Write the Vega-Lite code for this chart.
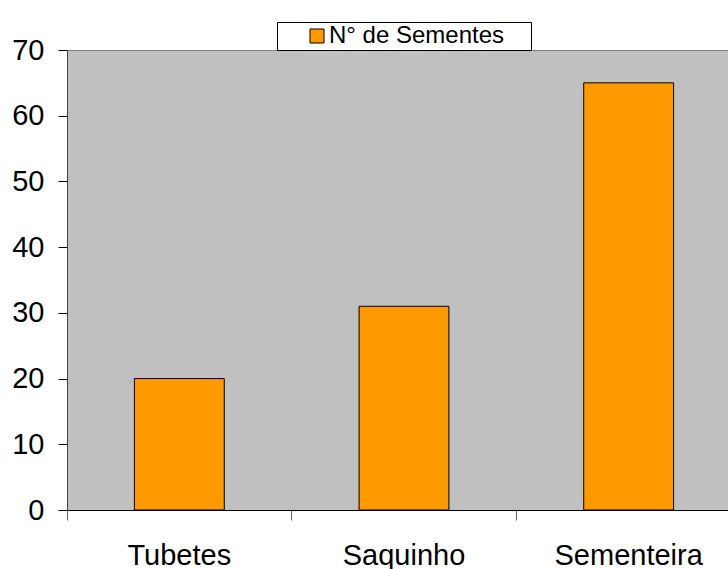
{
  "$schema": "https://vega.github.io/schema/vega-lite/v6.json",
  "autosize": {"type": "none"},
  "padding": {"left": 67, "top": 50, "right": 0, "bottom": 59},
  "width": 661,
  "height": 460,
  "background": "white",
  "config": {
    "font": "Liberation Sans",
    "view": {"fill": "#C0C0C0", "stroke": null}
  },
  "data": {
    "values": [
      {"categoria": "Tubetes", "serie": "N° de Sementes", "valor": 20},
      {"categoria": "Saquinho", "serie": "N° de Sementes", "valor": 31},
      {"categoria": "Sementeira", "serie": "N° de Sementes", "valor": 65}
    ]
  },
  "mark": {"type": "bar", "stroke": "black", "strokeWidth": 1},
  "encoding": {
    "x": {
      "field": "categoria",
      "type": "nominal",
      "sort": null,
      "scale": {"range": [0, 674], "paddingInner": 0.6, "paddingOuter": 0.3},
      "axis": {
        "title": null,
        "labelAngle": 0,
        "labelFontSize": 29,
        "labelColor": "black",
        "labelPadding": 21,
        "tickSize": 10,
        "tickColor": "#606060",
        "domainColor": "black",
        "bandPosition": -0.75,
        "labelBound": false,
        "labelOverlap": false
      }
    },
    "y": {
      "field": "valor",
      "type": "quantitative",
      "scale": {"domain": [0, 70], "nice": false},
      "axis": {
        "title": null,
        "values": [0, 10, 20, 30, 40, 50, 60, 70],
        "labelFontSize": 29,
        "labelColor": "black",
        "labelPadding": 14,
        "tickSize": 9,
        "tickColor": "black",
        "domainColor": "#404040",
        "grid": true,
        "gridColor": "#808080",
        "gridOpacity": {"condition": {"test": "datum.value === 70", "value": 1}, "value": 0}
      }
    },
    "color": {
      "field": "serie",
      "type": "nominal",
      "scale": {"range": ["#FF9900"]},
      "legend": {
        "title": "\u00a0",
        "titleOrient": "right",
        "titlePadding": 25,
        "titleFontSize": 4,
        "orient": "none",
        "legendX": 210,
        "legendY": -28,
        "direction": "vertical",
        "fillColor": "white",
        "strokeColor": "black",
        "padding": 2,
        "symbolType": "square",
        "symbolSize": 196,
        "symbolStrokeColor": "black",
        "symbolStrokeWidth": 1,
        "symbolOffset": 26,
        "labelOffset": 0,
        "labelLimit": 500,
        "labelFontSize": 24,
        "labelColor": "black"
      }
    }
  }
}
